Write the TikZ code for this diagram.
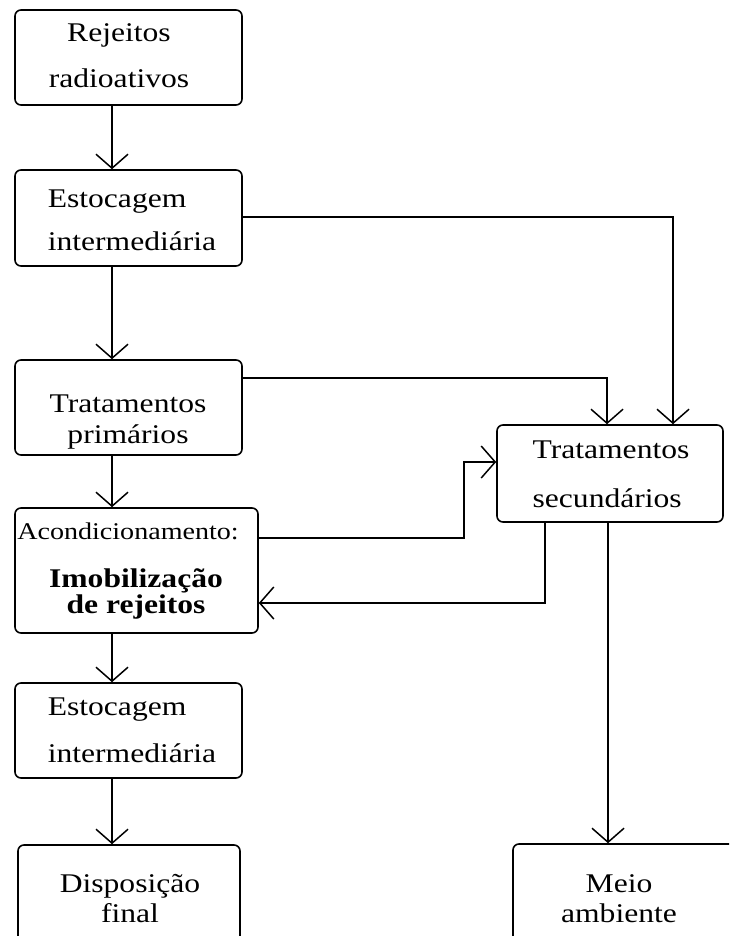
\documentclass[tikz,border=0pt]{standalone}
\usepackage{fontspec}
\setmainfont{Liberation Serif}[FakeStretch=1.17]
\usetikzlibrary{arrows.meta}

\begin{document}
\begin{tikzpicture}[x=1pt, y=-1pt]
	% Define the styles for boxes, texts and links
	\tikzstyle{box}=[rectangle, draw=black, line width=1.6pt, rounded corners=6pt, inner sep=0pt]
	\tikzstyle{txt}=[anchor=base, inner sep=0pt, align=center]
	\tikzstyle{link}=[line width=1.5pt, -{Straight Barb[length=14pt,width=32pt]}]

	\useasboundingbox (0,0) rectangle (729,936);
	\clip (0,0) rectangle (729,936);

	% Define boxes
	\node (rej) [box, minimum width=227pt, minimum height=95pt] at (128.5,57.5) {};
	\node (est1) [box, minimum width=227pt, minimum height=96pt] at (128.5,218) {};
	\node (trp) [box, minimum width=227pt, minimum height=95pt] at (128.5,407.5) {};
	\node (aco) [box, minimum width=243pt, minimum height=125pt] at (136.5,570.5) {};
	\node (est2) [box, minimum width=227pt, minimum height=95pt] at (128.5,730.5) {};
	\node (dis) [box, minimum width=222pt, minimum height=105pt] at (129,897.5) {};
	\node (trs) [box, minimum width=226pt, minimum height=97pt] at (610,473.5) {};
	\node (mei) [box, minimum width=247pt, minimum height=106pt] at (636.5,897) {};

	% Define texts
	\node (t-rej) [txt, font=\fontsize{27}{46}\selectfont] at (119,88) {Rejeitos\\radioativos};
	\node (t-est1) [txt, align=left, font=\fontsize{27}{43}\selectfont] at (132,250) {Estocagem\\intermediária};
	\node (t-trp) [txt, font=\fontsize{27}{31}\selectfont] at (128,443) {Tratamentos\\primários};
	\node (t-aco) [txt, font=\fontsize{24}{24}\selectfont] at (128,539) {Acondicionamento:};
	\node (t-imo) [txt, font=\bfseries\fontsize{27}{26}\selectfont] at (136,613) {Imobilização\\de rejeitos};
	\node (t-est2) [txt, align=left, font=\fontsize{27}{47}\selectfont] at (132,762) {Estocagem\\intermediária};
	\node (t-dis) [txt, font=\fontsize{27}{30}\selectfont] at (130,922) {Disposição\\final};
	\node (t-trs) [txt, align=left, font=\fontsize{27}{49}\selectfont] at (611,507) {Tratamentos\\secundários};
	\node (t-mei) [txt, font=\fontsize{27}{30}\selectfont] at (619,922) {Meio\\ambiente};

	% Define edges
	\coordinate (col) at (112,0);
	\draw[link] (rej.south -| col) -- (est1.north -| col);
	\draw[link] (est1.south -| col) -- (trp.north -| col);
	\draw[link] (trp.south -| col) -- (aco.north -| col);
	\draw[link] (aco.south -| col) -- (est2.north -| col);
	\draw[link] (est2.south -| col) -- (dis.north -| col);

	\draw[link] ([yshift=1pt]est1.east) -| ([xshift=63pt]trs.north);
	\draw[link] ([yshift=29.5pt]trp.east) -| ([xshift=-3pt]trs.north);
	\draw[link] ([yshift=32.5pt]aco.east) -| ([xshift=-32pt,yshift=11.5pt]trs.west) -- ([yshift=11.5pt]trs.west);
	\draw[link] ([xshift=-65pt]trs.south) |- ([yshift=-32.5pt]aco.east);
	\draw[link] ([xshift=-2pt]trs.south) -- ([xshift=-2pt]trs.south |- mei.north);
\end{tikzpicture}
\end{document}
